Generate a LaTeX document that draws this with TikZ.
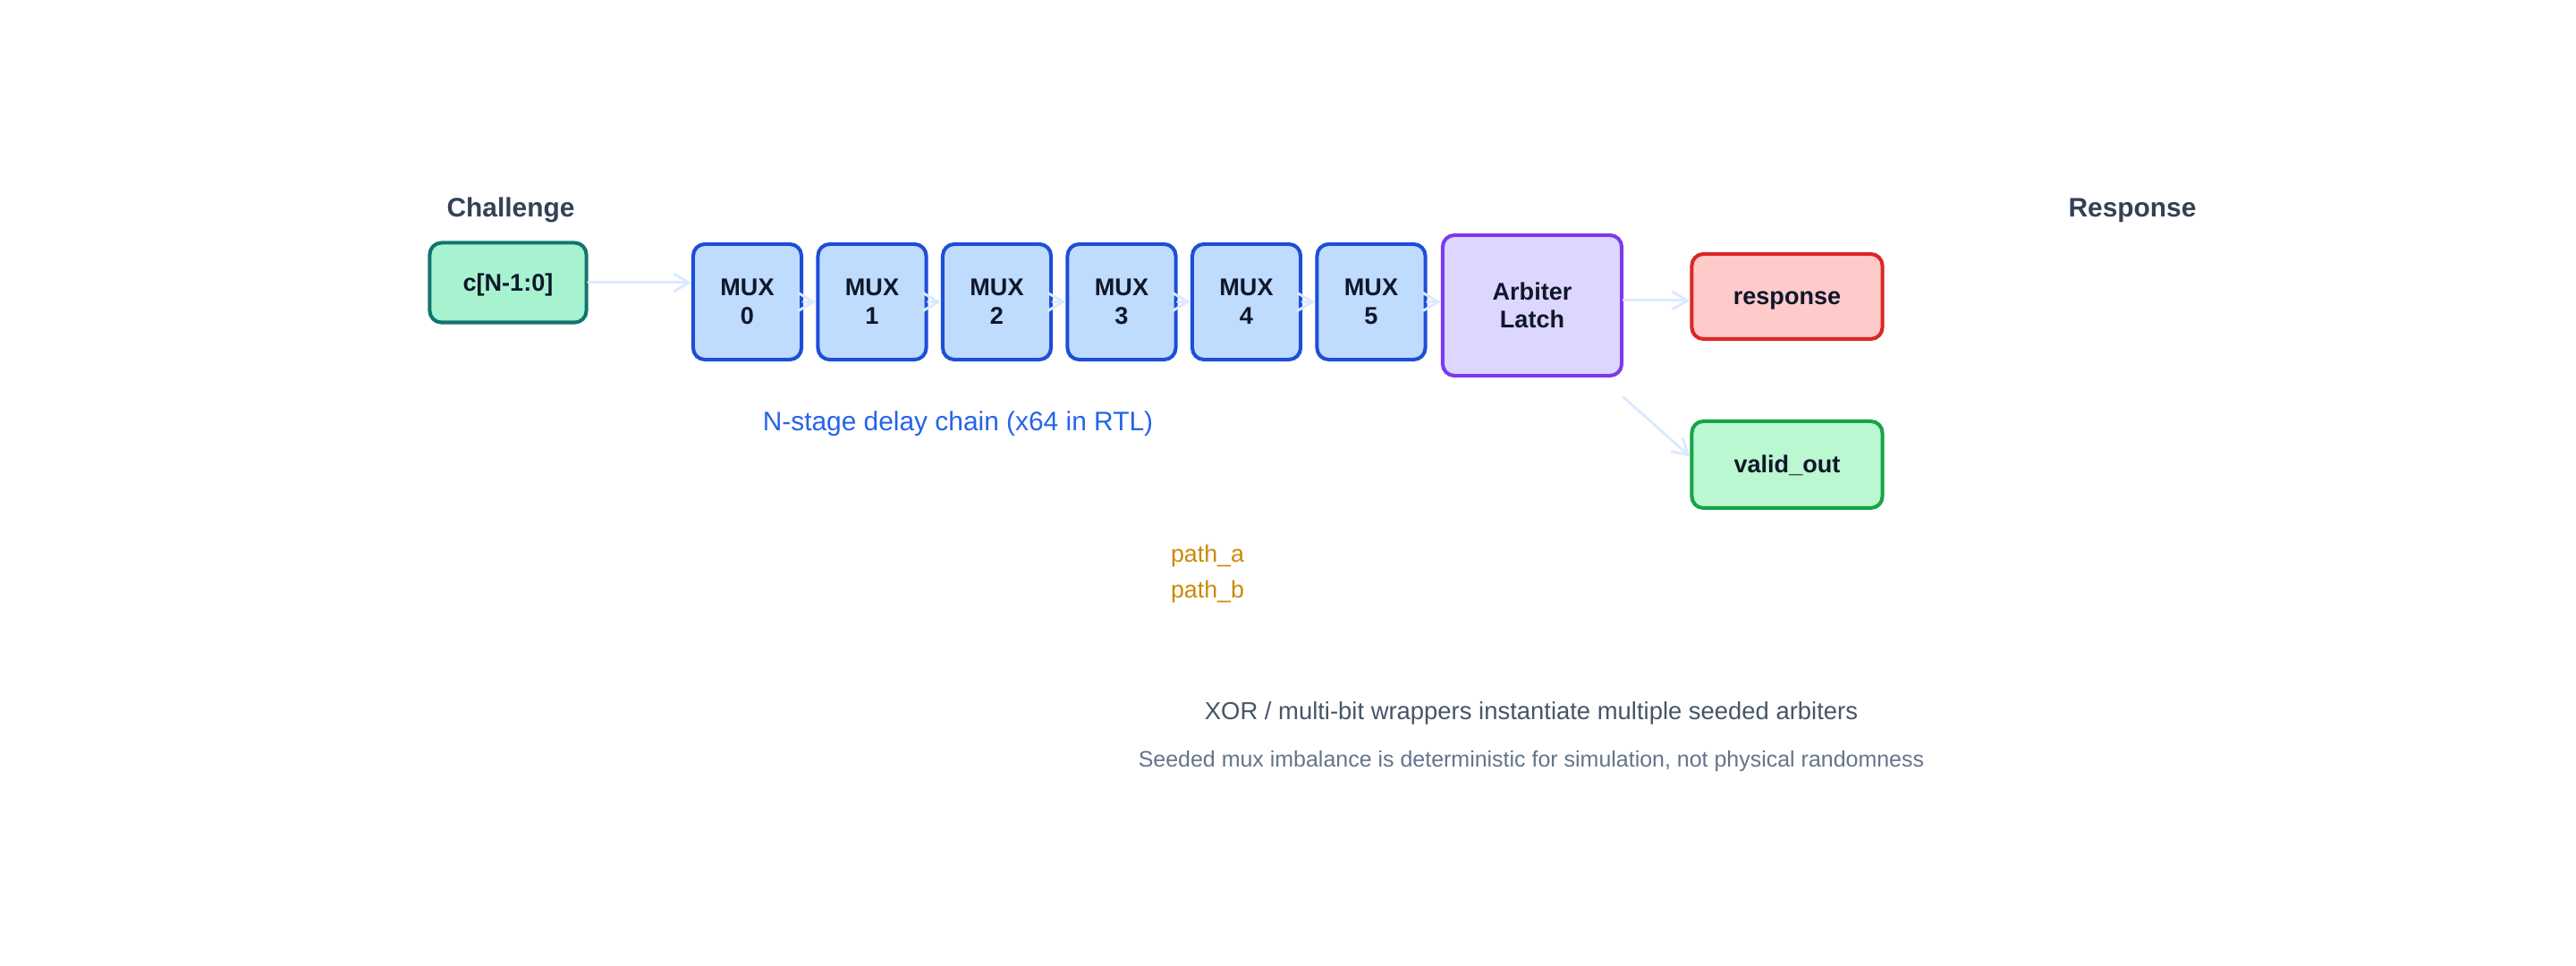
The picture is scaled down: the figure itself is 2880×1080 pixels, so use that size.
\documentclass[tikz,border=0pt]{standalone}
\usepackage{fontspec}
\setmainfont{Liberation Sans}
\usetikzlibrary{arrows.meta}
\definecolor{arrowc}{HTML}{DBEAFE}
\definecolor{inkc}{HTML}{0F172A}
\definecolor{titlec}{HTML}{334155}
\definecolor{chainc}{HTML}{2563EB}
\definecolor{pathc}{HTML}{CA8A04}
\definecolor{notec}{HTML}{475569}
\definecolor{subnotec}{HTML}{64748B}
\definecolor{cfill}{HTML}{A7F3D0}\definecolor{cdraw}{HTML}{0F766E}
\definecolor{mfill}{HTML}{BFDBFE}\definecolor{mdraw}{HTML}{1D4ED8}
\definecolor{afill}{HTML}{DDD6FE}\definecolor{adraw}{HTML}{7C3AED}
\definecolor{rfill}{HTML}{FECACA}\definecolor{rdraw}{HTML}{DC2626}
\definecolor{vfill}{HTML}{BBF7D0}\definecolor{vdraw}{HTML}{16A34A}
\tikzset{
  txt/.style={inner sep=0pt, text height=0.75em, text depth=0.21em},
  blk/.style={inner sep=0pt, rounded corners=0.13cm, line width=1.15pt, align=center,
    text=inkc, font=\fontsize{7.7}{9}\selectfont\bfseries},
  muxbox/.style={blk, fill=mfill, draw=mdraw, minimum width=1.21cm, minimum height=1.29cm},
  conn/.style={draw=arrowc, line width=0.85pt, line cap=round,
    -{Straight Barb[length=0.17cm,width=0.2cm,line width=0.85pt]}},
  ttl/.style={txt, text=titlec, font=\fontsize{8.5}{10}\selectfont\bfseries},
}
\begin{document}
\begin{tikzpicture}[x=0.01cm,y=-0.01cm]
\useasboundingbox (0,0) rectangle (2880,1080);
\node[ttl] (chal) at (571,233) {Challenge};
\node[ttl] (resp) at (2384,233) {Response};
\node[blk, txt, fill=cfill, draw=cdraw, minimum width=1.75cm, minimum height=0.89cm] (c) at (568,316) {c[N-1:0]};
\foreach \i in {0,...,5} {
  \node[muxbox] (m\i) at ({835.5+139.5*\i},337.5) {MUX\\\i};
}
\node[blk, fill=afill, draw=adraw, minimum width=2.0cm, minimum height=1.57cm] (arb) at (1713,341.5) {Arbiter\\Latch};
\node[blk, txt, fill=rfill, draw=rdraw, minimum width=2.13cm, minimum height=0.95cm] (rsp) at (1998,331.5) {response};
\node[blk, txt, fill=vfill, draw=vdraw, minimum width=2.13cm, minimum height=0.97cm] (vld) at (1998,519.5) {valid\_out};
\node[txt, text=chainc, font=\fontsize{8.5}{10}\selectfont] (chain) at (1071,472) {N-stage delay chain (x64 in RTL)};
\node[txt, text=pathc, font=\fontsize{7.6}{9}\selectfont] (pa) at (1350,619) {path\_a};
\node[txt, text=pathc, font=\fontsize{7.6}{9}\selectfont] (pb) at (1350,659) {path\_b};
\node[txt, text=notec, font=\fontsize{7.8}{9}\selectfont] (n1) at (1712,795) {XOR / multi-bit wrappers instantiate multiple seeded arbiters};
\node[txt, text=subnotec, font=\fontsize{7.1}{9}\selectfont] (n2) at (1712,848) {Seeded mux imbalance is deterministic for simulation, not physical randomness};
% connectors
\draw[conn] (c.east) -- (c.east -| m0.west);
\foreach \i [evaluate=\i as \j using int(\i+1)] in {0,...,4} {
  \draw[conn] (m\i.east) -- (m\j.west);
}
\draw[conn] (m5.east) -- (m5.east -| arb.west);
\coordinate (ao) at (1815,336);
\draw[conn] (ao) -- (ao -| rsp.west);
\coordinate (vs) at (1815,444);
\draw[conn] (vs) -- ([yshift=0.09cm]vld.west);
\end{tikzpicture}
\end{document}
